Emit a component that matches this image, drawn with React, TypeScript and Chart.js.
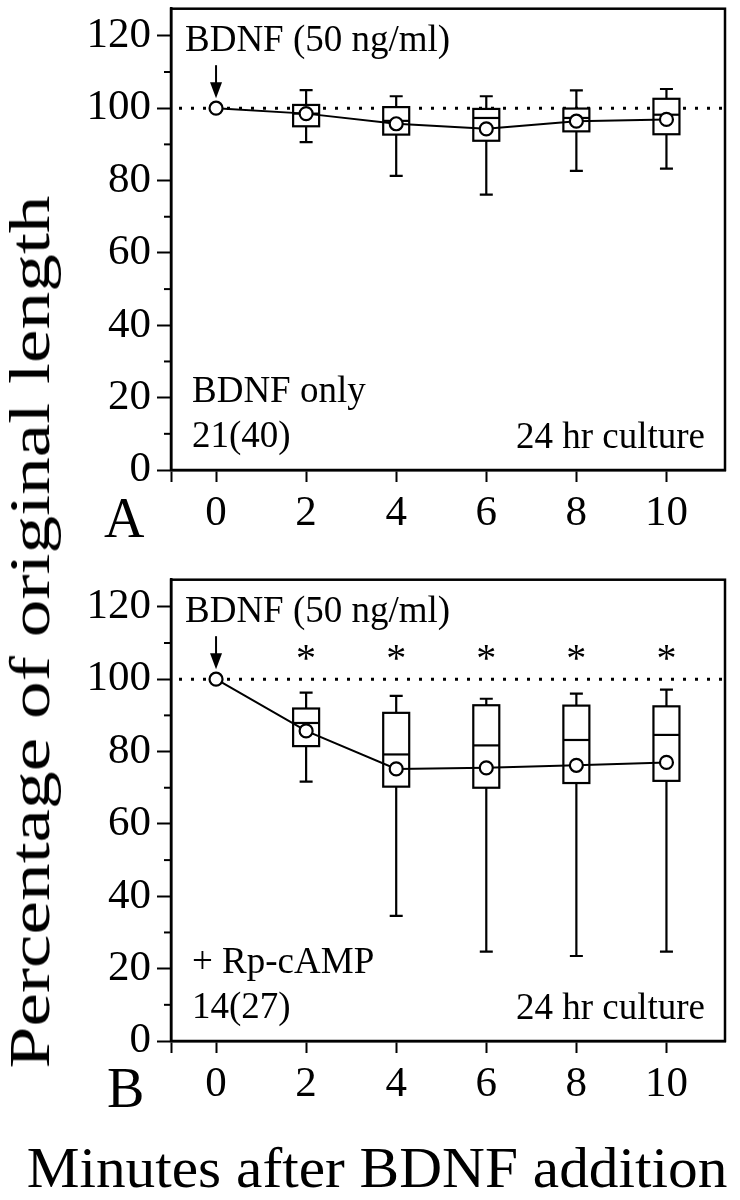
import React, { useEffect, useRef } from 'react';
import { Chart, registerables } from 'chart.js';

Chart.register(...registerables);

// ---------- data ----------
const minutes = [0, 2, 4, 6, 8, 10];
const xTicks = [-1, 0, 2, 4, 6, 8, 10];
const yTicks = [0, 20, 40, 60, 80, 100, 120];
const yMinorTicks = [10, 30, 50, 70, 90, 110];
const referenceLevel = 100;
const asteriskLevel = 107.5;

// Panel A: BDNF only
const meanA = [100, 98.5, 95.7, 94.3, 96.4, 96.9];
const whiskerHighA = [null, 105.0, 103.3, 103.3, 104.9, 105.3];
const q3A = [null, 100.9, 100.3, 99.8, 99.9, 102.6];
const medianA = [null, 98.5, 96.5, 97.3, 97.3, 98.2];
const q1A = [null, 95.0, 92.7, 91.0, 93.6, 92.8];
const whiskerLowA = [null, 90.6, 81.3, 76.1, 82.7, 83.3];
const significantA = [false, false, false, false, false, false];

// Panel B: + Rp-cAMP
const meanB = [100, 85.7, 75.2, 75.5, 76.2, 77.0];
const whiskerHighB = [null, 96.3, 95.4, 94.6, 96.0, 97.1];
const q3B = [null, 91.9, 90.7, 92.8, 92.7, 92.5];
const medianB = [null, 87.9, 79.2, 81.7, 83.2, 84.6];
const q1B = [null, 81.5, 70.3, 70.0, 71.3, 71.9];
const whiskerLowB = [null, 71.7, 34.6, 24.7, 23.5, 24.7];
const significantB = [false, true, true, true, true, true];

const FONT = "'Liberation Serif', 'Times New Roman', Times, serif";

type Panel = {
  mean: number[];
  whiskerHigh: (number | null)[];
  q3: (number | null)[];
  median: (number | null)[];
  q1: (number | null)[];
  whiskerLow: (number | null)[];
  significant: boolean[];
  treatment: string;
  count: string;
};

const panelA: Panel = {
  mean: meanA, whiskerHigh: whiskerHighA, q3: q3A, median: medianA, q1: q1A,
  whiskerLow: whiskerLowA, significant: significantA, treatment: 'BDNF only', count: '21(40)',
};
const panelB: Panel = {
  mean: meanB, whiskerHigh: whiskerHighB, q3: q3B, median: medianB, q1: q1B,
  whiskerLow: whiskerLowB, significant: significantB, treatment: '+ Rp-cAMP', count: '14(27)',
};

function makeChart(canvas: HTMLCanvasElement, panel: Panel) {
  const decor = {
    id: 'decor',
    beforeDatasetsDraw(chart: any) {
      const { ctx, chartArea: ca, scales } = chart;
      const x = scales.x, y = scales.y;
      ctx.save();
      ctx.strokeStyle = '#000';
      ctx.fillStyle = '#000';
      // dotted reference line
      ctx.lineWidth = 3;
      ctx.setLineDash([3, 9]);
      const yRef = y.getPixelForValue(referenceLevel);
      ctx.beginPath();
      ctx.moveTo(ca.left + 8, yRef);
      ctx.lineTo(ca.right, yRef);
      ctx.stroke();
      ctx.setLineDash([]);
      // box plots
      ctx.lineWidth = 2.2;
      const half = 13, cap = 6.5;
      minutes.forEach((m, i) => {
        const q3 = panel.q3[i], q1 = panel.q1[i], med = panel.median[i];
        const wh = panel.whiskerHigh[i], wl = panel.whiskerLow[i];
        if (q3 == null || q1 == null || med == null || wh == null || wl == null) return;
        const cx = x.getPixelForValue(m);
        const yQ3 = y.getPixelForValue(q3), yQ1 = y.getPixelForValue(q1);
        const yMed = y.getPixelForValue(med);
        const yWH = y.getPixelForValue(wh), yWL = y.getPixelForValue(wl);
        ctx.beginPath();
        ctx.moveTo(cx, yWH); ctx.lineTo(cx, yQ3);
        ctx.moveTo(cx, yQ1); ctx.lineTo(cx, yWL);
        ctx.moveTo(cx - cap, yWH); ctx.lineTo(cx + cap, yWH);
        ctx.moveTo(cx - cap, yWL); ctx.lineTo(cx + cap, yWL);
        ctx.stroke();
        ctx.fillStyle = '#fff';
        ctx.fillRect(cx - half, yQ3, half * 2, yQ1 - yQ3);
        ctx.strokeRect(cx - half, yQ3, half * 2, yQ1 - yQ3);
        ctx.beginPath();
        ctx.moveTo(cx - half, yMed); ctx.lineTo(cx + half, yMed);
        ctx.stroke();
      });
      ctx.restore();
    },
    afterDatasetsDraw(chart: any) {
      const { ctx, chartArea: ca, scales } = chart;
      const x = scales.x, y = scales.y;
      ctx.save();
      ctx.strokeStyle = '#000';
      ctx.fillStyle = '#000';
      ctx.lineWidth = 2;
      // arrow at time 0
      const ax = x.getPixelForValue(0);
      const tip = y.getPixelForValue(referenceLevel) - 10;
      ctx.beginPath();
      ctx.moveTo(ax, tip - 33); ctx.lineTo(ax, tip - 12);
      ctx.stroke();
      ctx.beginPath();
      ctx.moveTo(ax - 6, tip - 16); ctx.lineTo(ax + 6, tip - 16); ctx.lineTo(ax, tip);
      ctx.closePath();
      ctx.fill();
      // asterisks
      ctx.font = `40px ${FONT}`;
      ctx.textAlign = 'center';
      ctx.textBaseline = 'alphabetic';
      minutes.forEach((m, i) => {
        if (!panel.significant[i]) return;
        ctx.fillText('*', x.getPixelForValue(m), y.getPixelForValue(asteriskLevel) + 19);
      });
      // annotations
      ctx.font = `37px ${FONT}`;
      ctx.textAlign = 'left';
      ctx.fillText('BDNF (50 ng/ml)', ca.left + 14, ca.top + 42);
      ctx.fillText(panel.treatment, ca.left + 21, ca.bottom - 68);
      ctx.fillText(panel.count, ca.left + 21, ca.bottom - 23);
      ctx.textAlign = 'right';
      ctx.fillText('24 hr culture', ca.right - 20, ca.bottom - 22);
      // frame
      ctx.lineWidth = 2.5;
      ctx.strokeRect(ca.left, ca.top, ca.right - ca.left, ca.bottom - ca.top);
      // minor y ticks
      ctx.lineWidth = 2;
      yMinorTicks.forEach((v) => {
        const py = y.getPixelForValue(v);
        ctx.beginPath();
        ctx.moveTo(ca.left - 7, py); ctx.lineTo(ca.left, py);
        ctx.stroke();
      });
      ctx.restore();
    },
  };

  return new Chart(canvas, {
    type: 'line',
    data: {
      datasets: [
        {
          data: minutes.map((m, i) => ({ x: m, y: panel.mean[i] })),
          borderColor: '#000',
          borderWidth: 2,
          pointRadius: 6.5,
          pointBorderWidth: 2.2,
          pointBackgroundColor: '#fff',
          pointBorderColor: '#000',
          tension: 0,
        },
      ],
    },
    options: {
      animation: false,
      responsive: false,
      events: [],
      layout: { padding: { left: 0, right: 15, top: 8, bottom: 0 } },
      plugins: { legend: { display: false }, tooltip: { enabled: false } },
      scales: {
        x: {
          type: 'linear',
          min: -1,
          max: 11.3,
          afterBuildTicks: (s: any) => { s.ticks = xTicks.map((v) => ({ value: v })); },
          afterFit: (s: any) => { s.height = 70; s.paddingLeft = 0; s.paddingRight = 0; },
          ticks: {
            callback: (v: any) => (Number(v) < 0 ? '' : String(v)),
            font: { family: FONT, size: 43 },
            color: '#000',
            padding: 6,
            maxRotation: 0,
            autoSkip: false,
          },
          grid: { drawOnChartArea: false, drawTicks: true, tickLength: 12, tickWidth: 2, tickColor: '#000' },
          border: { display: true, color: '#000', width: 2.5 },
        },
        y: {
          type: 'linear',
          min: 0,
          max: 127.5,
          afterBuildTicks: (s: any) => { s.ticks = yTicks.map((v) => ({ value: v })); },
          afterFit: (s: any) => { s.width = 171; s.paddingTop = 0; s.paddingBottom = 0; },
          ticks: {
            font: { family: FONT, size: 43 },
            color: '#000',
            padding: 6,
            autoSkip: false,
          },
          grid: { drawOnChartArea: false, drawTicks: true, tickLength: 14, tickWidth: 2, tickColor: '#000' },
          border: { display: true, color: '#000', width: 2.5 },
        },
      },
    },
    plugins: [decor],
  } as any);
}

export default function App() {
  const refA = useRef<HTMLCanvasElement>(null);
  const refB = useRef<HTMLCanvasElement>(null);

  useEffect(() => {
    const a = makeChart(refA.current!, panelA);
    const b = makeChart(refB.current!, panelB);
    return () => { a.destroy(); b.destroy(); };
  }, []);

  const text: React.CSSProperties = {
    position: 'absolute',
    fontFamily: FONT,
    lineHeight: 1,
    whiteSpace: 'nowrap',
    color: '#000',
    margin: 0,
  };

  return (
    <div style={{ position: 'absolute', left: 0, top: 0, width: 740, height: 1200, background: '#fff', overflow: 'hidden' }}>
      <canvas ref={refA} width={740} height={540} style={{ position: 'absolute', left: 0, top: 0 }} />
      <canvas ref={refB} width={740} height={540} style={{ position: 'absolute', left: 0, top: 571 }} />
      <div style={{ ...text, left: 104, top: 490, fontSize: 56 }}>A</div>
      <div style={{ ...text, left: 107, top: 1060, fontSize: 56 }}>B</div>
      <div
        style={{
          ...text,
          left: 377,
          top: 1168,
          fontSize: 56,
          transform: 'translate(-50%, -50%) scaleX(1.06)',
        }}
      >
        Minutes after BDNF addition
      </div>
      <div
        style={{
          ...text,
          left: 30,
          top: 632,
          fontSize: 58,
          transform: 'translate(-50%, -50%) rotate(-90deg) scaleX(1.3)',
        }}
      >
        Percentage of original length
      </div>
    </div>
  );
}
